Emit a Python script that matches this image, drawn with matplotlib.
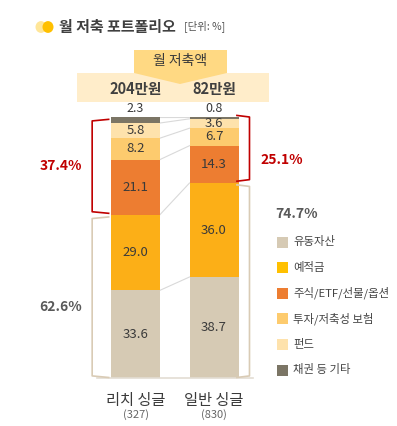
import matplotlib
matplotlib.use('Agg')

import matplotlib.pyplot as plt
import matplotlib.patches as patches
import numpy as np

plt.rcParams['font.family'] = ['Noto Sans CJK KR', 'DejaVu Sans']

# data
categories = ['리치 싱글', '일반 싱글']
counts = ['(327)', '(830)']
amounts = ['204만원', '82만원']
series_names = ['유동자산', '예적금', '주식/ETF/선물/옵션', '투자/저축성 보험', '펀드', '채권 등 기타']
liquid = [33.6, 38.7]
deposit = [29.0, 36.0]
stock = [21.1, 14.3]
insurance = [8.2, 6.7]
fund = [5.8, 3.6]
bond = [2.3, 0.8]
safe_share = [62.6, 74.7]
risk_share = [37.4, 25.1]

bar_colors = ['#D6CAB4', '#FCAF17', '#ED7D31', '#FDCB6E', '#FEE2AC', '#7B7565']
legend_colors = ['#D6CAB4', '#FFC000', '#ED7D31', '#FDCB6E', '#FEE2AC', '#7B7565']
RED = '#C00000'
TAN = '#D9CBB5'
TXT = '#3A3A3A'

W, H = 397, 426
fig = plt.figure(figsize=(W / 100, H / 100), dpi=100)


def fx(x):
    return x / W


def fy(y):
    return 1 - y / H


# bar axes: 0% at y=378px, 100% at y=117px; bar 0 at x=135.5px, bar 1 at x=214px
ax = fig.add_axes([0, fy(378), 1, fy(117) - fy(378)])
unit = 78.5
ax.set_xlim(-135.5 / unit, (W - 135.5) / unit)
ax.set_ylim(0, 100)
ax.axis('off')

x = np.arange(len(categories))
bw = 49 / unit
series = [liquid, deposit, stock, insurance, fund, bond]
bottoms = np.zeros(len(categories))
tops = []
for vals, col in zip(series, bar_colors):
    ax.bar(x, vals, bw, bottom=bottoms, color=col, edgecolor='none', zorder=2)
    for i, v in enumerate(vals):
        if vals is bond:
            # thin top segment: label sits above the bar
            ax.text(x[i], 100.6, f'{v:.1f}', ha='center', va='bottom', fontsize=9, color=TXT)
        else:
            ax.text(x[i], bottoms[i] + v / 2, f'{v:.1f}', ha='center', va='center',
                    fontsize=9.5, color=TXT, zorder=3)
    bottoms = bottoms + np.array(vals)
    tops.append(bottoms.copy())

# connecting lines between bars
for t in tops:
    ax.plot([x[0] + bw / 2, x[1] - bw / 2], [min(t[0], 100), min(t[1], 100)],
            color='#D9D9D9', lw=0.8, zorder=1)

# baseline
ax.plot([x[0] - bw / 2 - 0.18, x[1] + bw / 2 + 0.18], [0, 0], color='#E3DDD3', lw=1.2, clip_on=False)


def bracket(ax, xv, xe, y0, y1, color):
    xs = [xe, xv, xv, xe]
    ys = [y0 - 0.3, y0 + 0.3, y1 - 0.3, y1 + 0.3]
    ax.plot(xs, ys, color=color, lw=1.2, clip_on=False)


# left brackets
lx = x[0] - bw / 2 - 0.24
lxe = x[0] - bw / 2 - 0.03
bracket(ax, lx, lxe, 100 - risk_share[0] + 0.8, 98.8, RED)
bracket(ax, lx, lxe, 0.5, safe_share[0] - 1.2, TAN)
# right brackets
rx = x[1] + bw / 2 + 0.14
rxe = x[1] + bw / 2 - 0.02
bracket(ax, rx, rxe, safe_share[1] + 1.0, 100.3, RED)
bracket(ax, rx, rxe, 0.5, safe_share[1] - 1.0, TAN)

# bracket labels
ax.text(lx - 0.13, 100 - risk_share[0] / 2, f'{risk_share[0]:.1f}%', ha='right', va='center',
        fontsize=10, fontweight='bold', color=RED)
ax.text(lx - 0.13, safe_share[0] / 2 - 4, f'{safe_share[0]:.1f}%', ha='right', va='center',
        fontsize=10, fontweight='bold', color='#595959')
ax.text(rx + 0.14, 100 - risk_share[1] / 2 - 4, f'{risk_share[1]:.1f}%', ha='left', va='center',
        fontsize=10, fontweight='bold', color=RED)
ax.text(rx + 0.33, safe_share[1] - 12, f'{safe_share[1]:.1f}%', ha='left', va='center',
        fontsize=10, fontweight='bold', color='#595959')

# category labels
for i in x:
    fig.text(fx(135.5 + unit * i), fy(400), categories[i], ha='center', va='center',
             fontsize=11, color=TXT)
    fig.text(fx(135.5 + unit * i), fy(415), counts[i], ha='center', va='center',
             fontsize=8, color='#666666')

# legend
for k, (name, col) in enumerate(zip(series_names, legend_colors)):
    yy = 242 + k * 25.6
    fig.patches.append(patches.Rectangle((fx(277), fy(yy + 5.5)), fx(11), 11 / H,
                                         transform=fig.transFigure, facecolor=col, edgecolor='none'))
    fig.text(fx(293), fy(yy), name, ha='left', va='center', fontsize=8.2, color='#444444')

# header: 월 저축액 box with arrow, and light band
band = patches.Rectangle((fx(77), fy(102)), fx(192), 29 / H, transform=fig.transFigure,
                         facecolor='#FFEDCA', edgecolor='none')
fig.patches.append(band)
arrow = patches.Polygon([(fx(134), fy(50)), (fx(227), fy(50)), (fx(227), fy(73)),
                         (fx(180), fy(84)), (fx(134), fy(73))], closed=True,
                        transform=fig.transFigure, facecolor='#FFD983', edgecolor='none')
fig.patches.append(arrow)
fig.text(fx(180), fy(61), '월 저축액', ha='center', va='center', fontsize=10, color=TXT)
for i in x:
    fig.text(fx(135.5 + unit * i), fy(89), amounts[i], ha='center', va='center',
             fontsize=10.5, fontweight='bold', color='#404040')

# title
fig.patches.append(patches.Circle((fx(41), fy(27)), 5.5 / W, transform=fig.transFigure,
                                  facecolor='#FFE699', edgecolor='none'))
fig.patches.append(patches.Circle((fx(48), fy(27)), 5.5 / W, transform=fig.transFigure,
                                  facecolor='#FFC000', edgecolor='none'))
fig.text(fx(59), fy(27), '월 저축 포트폴리오', ha='left', va='center', fontsize=10.8,
         fontweight='bold', color='#404040')
fig.text(fx(184), fy(26), '[단위: %]', ha='left', va='center', fontsize=7.5, color='#555555')

fig.savefig('out.png', dpi=100)
